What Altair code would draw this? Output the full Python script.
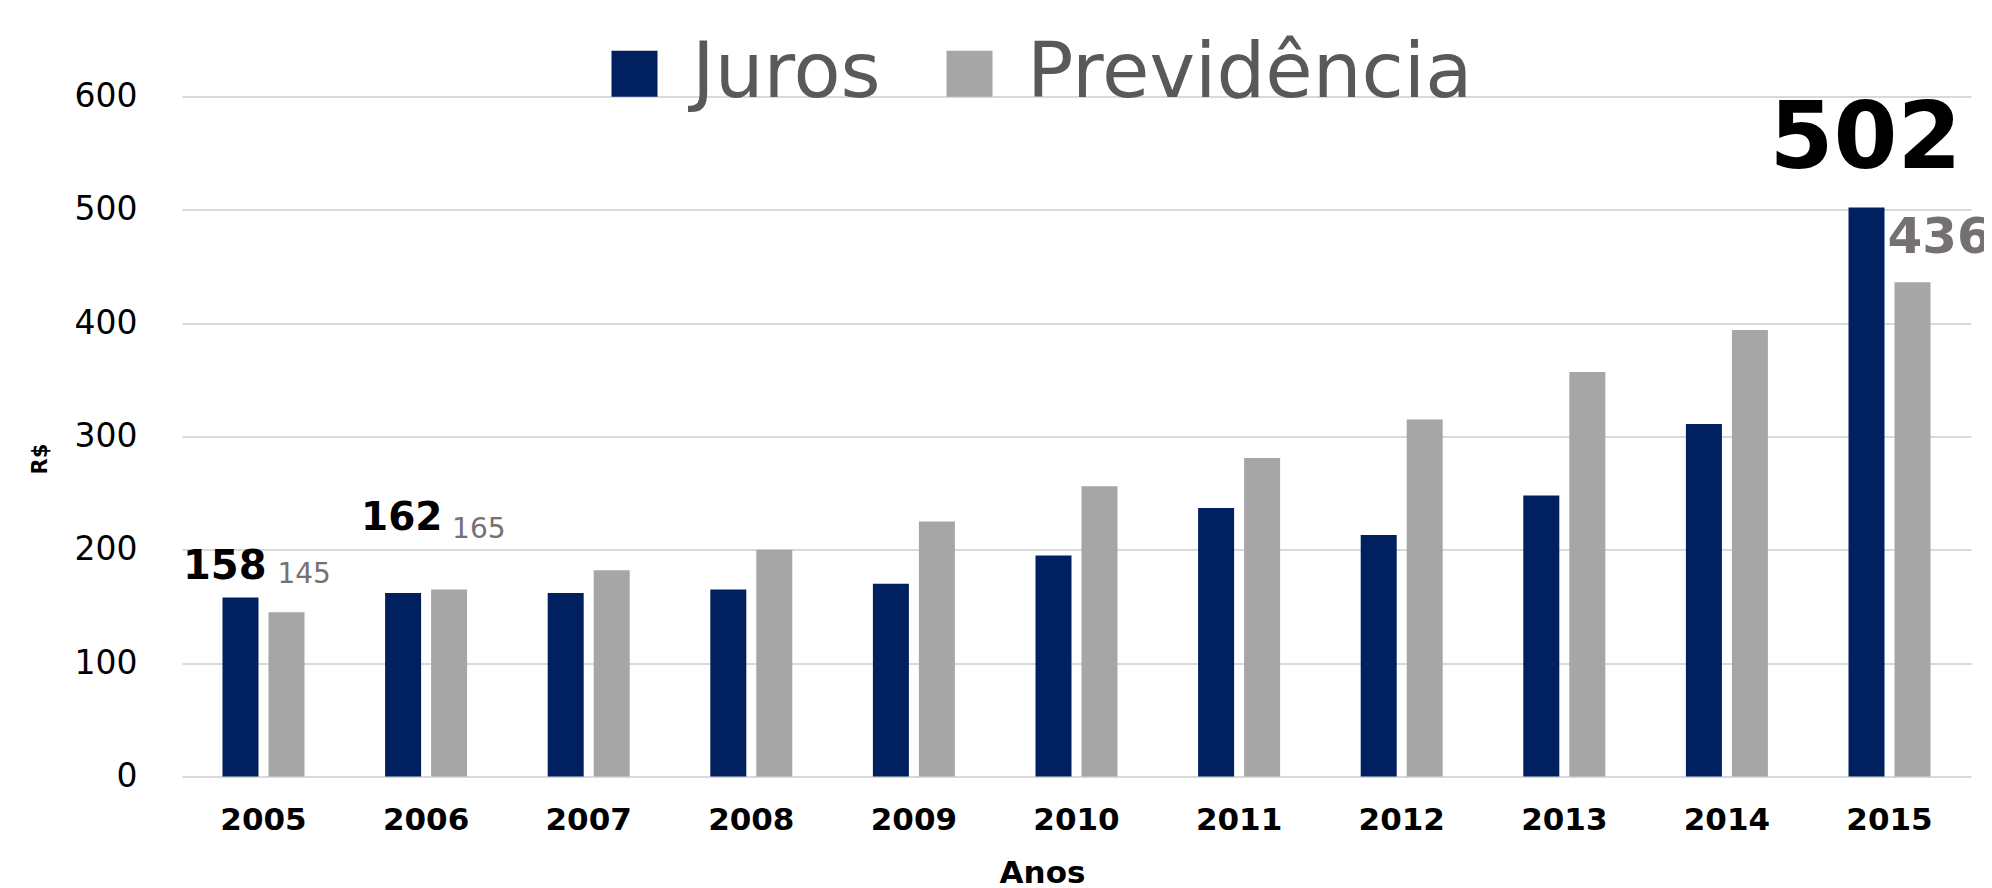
import altair as alt
import pandas as pd

# ---- data ----
years = ["2005", "2006", "2007", "2008", "2009", "2010",
         "2011", "2012", "2013", "2014", "2015"]
series = ["Juros", "Previdência"]
juros = [158, 162, 162, 165, 170, 195, 237, 213, 248, 311, 502]
previdencia = [145, 165, 182, 200, 225, 256, 281, 315, 357, 394, 436]
y_ticks = [0, 100, 200, 300, 400, 500, 600]
labelled = [("2005", "Juros"), ("2005", "Previdência"),
            ("2006", "Juros"), ("2006", "Previdência"),
            ("2015", "Juros"), ("2015", "Previdência")]

rows = []
for i, yr in enumerate(years):
    rows.append({"ano": yr, "serie": "Juros", "valor": juros[i]})
    rows.append({"ano": yr, "serie": "Previdência", "valor": previdencia[i]})
df = pd.DataFrame(rows)

# ---- styles for the value labels (kept apart from the data) ----
label_styles = [
    dict(fontSize=40, fontWeight="bold", color="#000000", dx=-57.5, dy=-18.4),
    dict(fontSize=28, fontWeight="normal", color="#767171", dx=-9, dy=-29),
    dict(fontSize=39, fontWeight="bold", color="#000000", dx=-42, dy=-63),
    dict(fontSize=28, fontWeight="normal", color="#767171", dx=3, dy=-51.5),
    dict(fontSize=92, fontWeight="bold", color="#000000", dx=-97, dy=-39.6),
    dict(fontSize=50, fontWeight="bold", color="#767171", dx=-25, dy=-29.4),
]

FONT = "DejaVu Sans"

x_enc = alt.X(
    "ano:N", sort=years, title="Anos",
    scale=alt.Scale(paddingInner=0.4957, paddingOuter=0.249),
    axis=alt.Axis(labelAngle=0, labelFont=FONT, labelFontSize=31,
                  labelFontWeight="bold", labelColor="#000000",
                  labelPadding=29, ticks=False, domain=False, grid=False,
                  titleFont=FONT, titleFontSize=31, titleFontWeight="bold",
                  titleColor="#000000", titleX=860, titleY=106,
                  titleAlign="center", titleBaseline="alphabetic"),
)
xoff_enc = alt.XOffset("serie:N", sort=series,
                       scale=alt.Scale(paddingInner=0.2174, paddingOuter=0))
y_enc = alt.Y(
    "valor:Q", title="R$",
    scale=alt.Scale(domain=[0, 600], nice=False),
    axis=alt.Axis(values=y_ticks, labelFont=FONT, labelFontSize=33,
                  labelColor="#000000", labelPadding=45, ticks=False,
                  domain=False, grid=True, gridColor="#D9D9D9", gridWidth=2,
                  titleFont=FONT, titleFontSize=21, titleFontWeight="bold",
                  titleColor="#000000", titleAngle=270, titleX=-142,
                  titleY=362, titleAlign="center", titleBaseline="middle"),
)

bars = alt.Chart(df).mark_bar().encode(
    x=x_enc,
    xOffset=xoff_enc,
    y=y_enc,
    color=alt.Color(
        "serie:N", sort=series,
        scale=alt.Scale(domain=series, range=["#002060", "#A6A6A6"]),
        legend=alt.Legend(
            orient="none", legendX=414, legendY=-61.5, direction="horizontal",
            title=None, symbolType="square", symbolSize=2116,
            symbolStrokeWidth=0, labelFont=FONT, labelFontSize=77,
            labelColor="#595959", labelOffset=19, columnPadding=50,
            padding=0, labelLimit=0,
        ),
    ),
)

layers = [bars]
for (yr, s), st in zip(labelled, label_styles):
    t = alt.Chart(df).transform_filter(
        (alt.datum.ano == yr) & (alt.datum.serie == s)
    ).mark_text(align="left", baseline="alphabetic", font=FONT, **st).encode(
        x=x_enc, xOffset=xoff_enc, y=y_enc, text="valor:Q"
    )
    layers.append(t)

chart = alt.layer(*layers).properties(
    width=1789, height=680,
    padding={"left": 174, "top": 88.5, "right": 13, "bottom": 110},
    autosize=alt.AutoSizeParams(type="none"),
    background="#FFFFFF",
).configure_view(stroke=None)

chart.save("out.html", embed_options={"renderer": "svg", "actions": False})
